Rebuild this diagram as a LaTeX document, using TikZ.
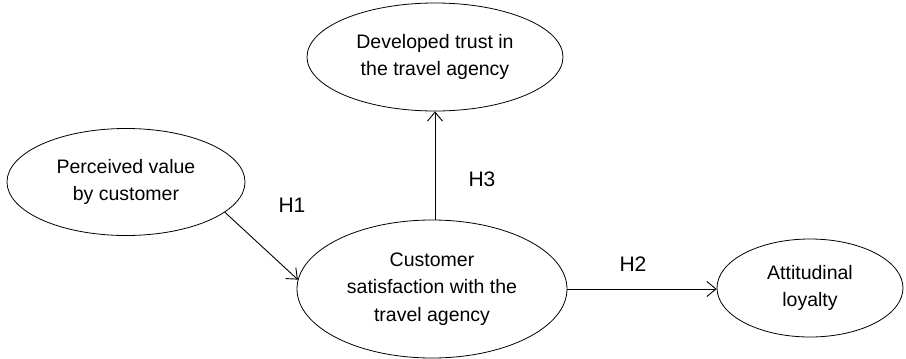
\documentclass[tikz,border=0pt]{standalone}
\usepackage{fontspec}
\setmainfont{Liberation Sans}
\usetikzlibrary{shapes.geometric,arrows.meta}
\begin{document}
\begin{tikzpicture}[x=1pt,y=-1pt,
  construct/.style={draw=black, line width=0.8pt, ellipse, inner sep=0pt,
    align=center, font=\fontsize{19.5}{27.5}\selectfont},
  path arrow/.style={draw=black, line width=0.9pt,
    -{Straight Barb[length=9pt,width=15pt,line width=0.9pt]}},
  hyp/.style={font=\fontsize{21}{24}\selectfont, inner sep=0pt}]
  \useasboundingbox (0,0) rectangle (906,359);

  % latent constructs
  \node[construct, minimum width=256pt, minimum height=108pt] (trust) at (435,57)
    {Developed trust in\\the travel agency};
  \node[construct, minimum width=238pt, minimum height=107pt] (value) at (126,182)
    {Perceived value\\by customer};
  \node[construct, minimum width=270pt, minimum height=138pt] (sat) at (432,289)
    {Customer\\satisfaction with the\\travel agency};
  \node[construct, minimum width=186pt, minimum height=98pt] (loyal) at (810,288)
    {Attitudinal\\loyalty};

  % hypothesised paths
  \draw[path arrow] (value.-17) -- (sat.176);
  \draw[path arrow] (trust.south |- sat.north) -- (trust.south);
  \draw[path arrow] (sat.east) -- (sat.east -| loyal.west);

  % hypothesis labels
  \node[hyp] (h1) at (292,205) {H1};
  \node[hyp] (h2) at (633,264) {H2};
  \node[hyp] (h3) at (482,179) {H3};
\end{tikzpicture}
\end{document}
